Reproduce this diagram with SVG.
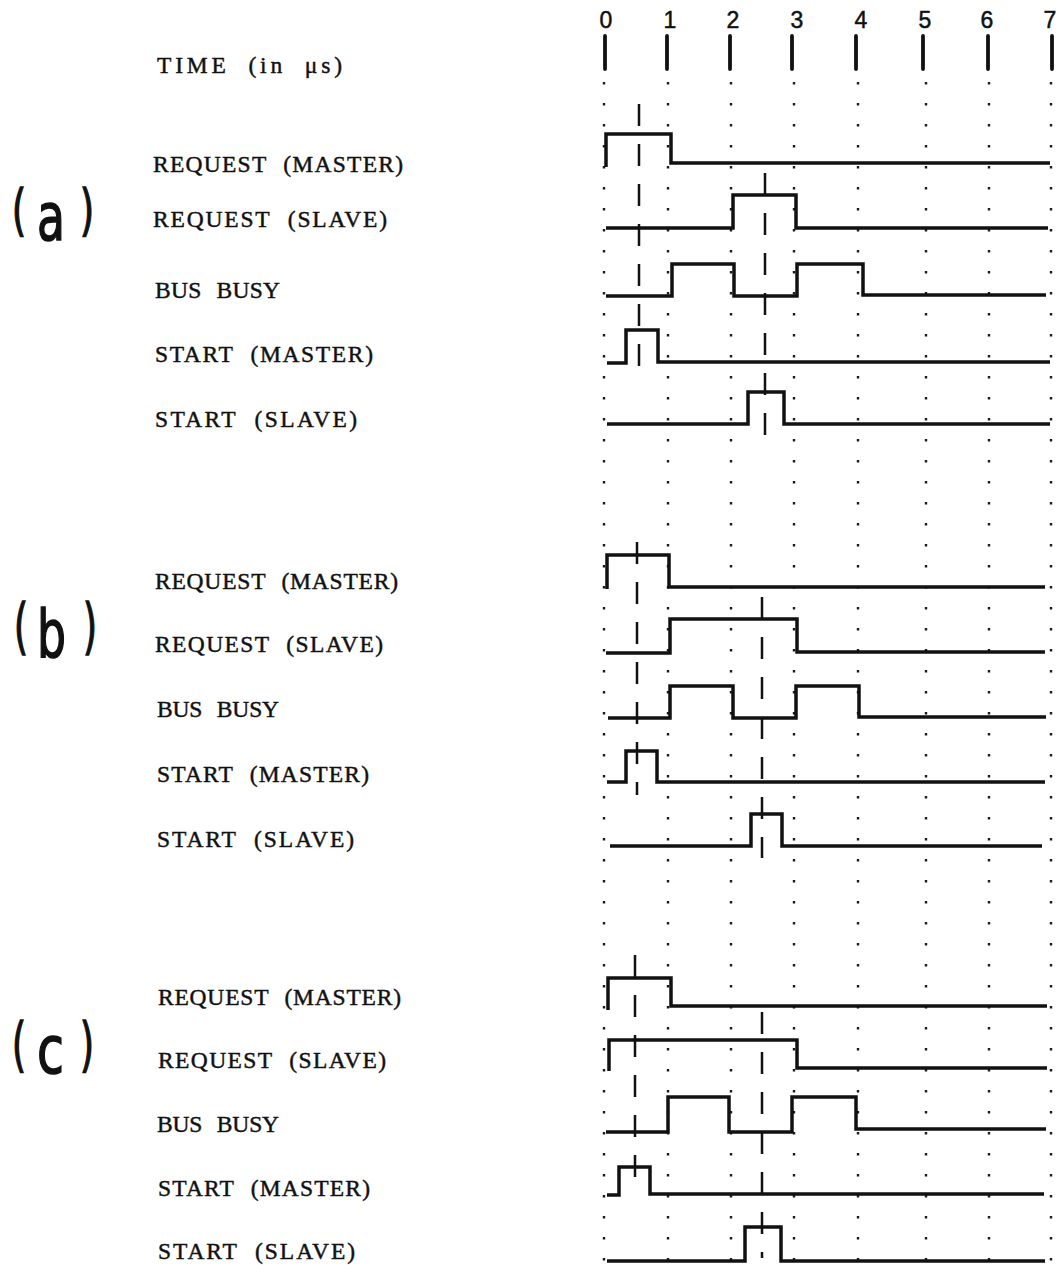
<svg xmlns="http://www.w3.org/2000/svg" width="1060" height="1265" viewBox="0 0 1060 1265">
<style>
.bg{fill:#fff}
.grid{fill:none;stroke:#1a1a1a;stroke-width:2.4;stroke-dasharray:2.4 18.6}
.tick{stroke:#111;stroke-width:3.8;stroke-linecap:round}
.num{font-family:"Liberation Sans","DejaVu Sans",sans-serif;font-size:23px;fill:#111;stroke:#111;stroke-width:0.5;text-anchor:middle}
.lbl{font-family:"Liberation Serif","DejaVu Serif",serif;font-size:23.5px;fill:#111;stroke:#111;stroke-width:0.45;word-spacing:9px}
.sec{font-family:"DejaVu Sans","Liberation Sans",sans-serif;fill:#111;stroke:#111;stroke-width:1.6}
.wave{fill:none;stroke:#111;stroke-width:3.5;stroke-linejoin:miter}
.mark{fill:none;stroke:#111;stroke-width:2.5;stroke-dasharray:22 18}
</style>
<rect class="bg" x="0" y="0" width="1060" height="1265"/>

<g id="time-axis">
  <text class="num" x="606" y="28">0</text>
  <text class="num" x="670" y="28">1</text>
  <text class="num" x="733" y="28">2</text>
  <text class="num" x="797" y="28">3</text>
  <text class="num" x="861" y="28">4</text>
  <text class="num" x="925" y="28">5</text>
  <text class="num" x="987" y="28">6</text>
  <text class="num" x="1050" y="28">7</text>
  <line class="tick" x1="605" y1="36" x2="605" y2="69"/>
  <line class="tick" x1="667" y1="36" x2="667" y2="69"/>
  <line class="tick" x1="730" y1="36" x2="730" y2="69"/>
  <line class="tick" x1="792" y1="36" x2="792" y2="69"/>
  <line class="tick" x1="856" y1="36" x2="856" y2="69"/>
  <line class="tick" x1="923" y1="36" x2="923" y2="69"/>
  <line class="tick" x1="988" y1="36" x2="988" y2="69"/>
  <line class="tick" x1="1052" y1="36" x2="1052" y2="69"/>
  <text class="lbl" x="157" y="73" textLength="185" lengthAdjust="spacing">TIME (in μs)</text>
</g>

<g id="grid">
  <line class="grid" x1="604" y1="82" x2="604" y2="1265"/>
  <line class="grid" x1="668" y1="82" x2="668" y2="1265"/>
  <line class="grid" x1="731" y1="82" x2="731" y2="1265"/>
  <line class="grid" x1="794" y1="82" x2="794" y2="1265"/>
  <line class="grid" x1="858" y1="82" x2="858" y2="1265"/>
  <line class="grid" x1="926" y1="82" x2="926" y2="1265"/>
  <line class="grid" x1="989" y1="82" x2="989" y2="1265"/>
  <line class="grid" x1="1051" y1="82" x2="1051" y2="1265"/>
</g>

<g id="section-a">
  <text class="sec" x="12" y="229" font-size="55" textLength="14" lengthAdjust="spacingAndGlyphs">(</text>
  <text class="sec" x="37" y="240" font-size="66" textLength="28" lengthAdjust="spacingAndGlyphs">a</text>
  <text class="sec" x="80" y="229" font-size="55" textLength="14" lengthAdjust="spacingAndGlyphs">)</text>
  <text class="lbl" x="153" y="172" textLength="250" lengthAdjust="spacing">REQUEST (MASTER)</text>
  <text class="lbl" x="153" y="227" textLength="234" lengthAdjust="spacing">REQUEST (SLAVE)</text>
  <text class="lbl" x="155" y="298" textLength="125" lengthAdjust="spacing">BUS BUSY</text>
  <text class="lbl" x="155" y="362" textLength="218" lengthAdjust="spacing">START (MASTER)</text>
  <text class="lbl" x="155" y="427" textLength="202" lengthAdjust="spacing">START (SLAVE)</text>
  <g id="a-waves">
    <path class="wave" d="M606,167 V134 H671 V163 H1050"/>
    <path class="wave" d="M606,228 H733 V195 H796 V228 H1048"/>
    <path class="wave" d="M606,296 H672 V264 H734 V296 H797 V264 H863 V295 H1046"/>
    <path class="wave" d="M607,363 H626 V330 H658 V362 H1050"/>
    <path class="wave" d="M607,424 H748 V392 H784 V424 H1050"/>
  </g>
  <g id="a-markers">
    <line class="mark" x1="639" y1="104" x2="639" y2="378"/>
    <line class="mark" x1="765" y1="173" x2="765" y2="440"/>
  </g>
</g>

<g id="section-b">
  <text class="sec" x="14" y="647" font-size="60" textLength="14" lengthAdjust="spacingAndGlyphs">(</text>
  <text class="sec" x="37" y="657" font-size="66" textLength="29" lengthAdjust="spacingAndGlyphs">b</text>
  <text class="sec" x="83" y="647" font-size="60" textLength="14" lengthAdjust="spacingAndGlyphs">)</text>
  <text class="lbl" x="155" y="589" textLength="243" lengthAdjust="spacing">REQUEST (MASTER)</text>
  <text class="lbl" x="155" y="652" textLength="228" lengthAdjust="spacing">REQUEST (SLAVE)</text>
  <text class="lbl" x="157" y="717" textLength="122" lengthAdjust="spacing">BUS BUSY</text>
  <text class="lbl" x="157" y="782" textLength="212" lengthAdjust="spacing">START (MASTER)</text>
  <text class="lbl" x="157" y="847" textLength="197" lengthAdjust="spacing">START (SLAVE)</text>
  <g id="b-waves">
    <path class="wave" d="M607,589 V555 H669 V587 H1045"/>
    <path class="wave" d="M606,653 H670 V619 H797 V652 H1045"/>
    <path class="wave" d="M608,718 H670 V686 H733 V718 H796 V686 H859 V717 H1046"/>
    <path class="wave" d="M607,782 H626 V751 H657 V782 H1045"/>
    <path class="wave" d="M610,846 H751 V814 H782 V846 H1042"/>
  </g>
  <g id="b-markers">
    <line class="mark" x1="637" y1="542" x2="637" y2="795"/>
    <line class="mark" x1="762" y1="597" x2="762" y2="858"/>
  </g>
</g>

<g id="section-c">
  <text class="sec" x="12" y="1065" font-size="58" textLength="14" lengthAdjust="spacingAndGlyphs">(</text>
  <text class="sec" x="37" y="1073" font-size="66" textLength="27" lengthAdjust="spacingAndGlyphs">c</text>
  <text class="sec" x="80" y="1065" font-size="58" textLength="14" lengthAdjust="spacingAndGlyphs">)</text>
  <text class="lbl" x="158" y="1005" textLength="243" lengthAdjust="spacing">REQUEST (MASTER)</text>
  <text class="lbl" x="158" y="1068" textLength="228" lengthAdjust="spacing">REQUEST (SLAVE)</text>
  <text class="lbl" x="157" y="1132" textLength="122" lengthAdjust="spacing">BUS BUSY</text>
  <text class="lbl" x="158" y="1196" textLength="212" lengthAdjust="spacing">START (MASTER)</text>
  <text class="lbl" x="158" y="1259" textLength="197" lengthAdjust="spacing">START (SLAVE)</text>
  <g id="c-waves">
    <path class="wave" d="M608,1010 V978 H671 V1006 H1047"/>
    <path class="wave" d="M609,1071 V1040 H797 V1068 H1047"/>
    <path class="wave" d="M606,1132 H668 V1097 H729 V1132 H792 V1097 H856 V1129 H1046"/>
    <path class="wave" d="M607,1195 H619 V1167 H650 V1194 H1044"/>
    <path class="wave" d="M607,1261 H745 V1227 H781 V1261 H1045"/>
  </g>
  <g id="c-markers">
    <line class="mark" x1="635" y1="955" x2="635" y2="1195"/>
    <line class="mark" x1="762" y1="1012" x2="762" y2="1258"/>
  </g>
</g>
</svg>
